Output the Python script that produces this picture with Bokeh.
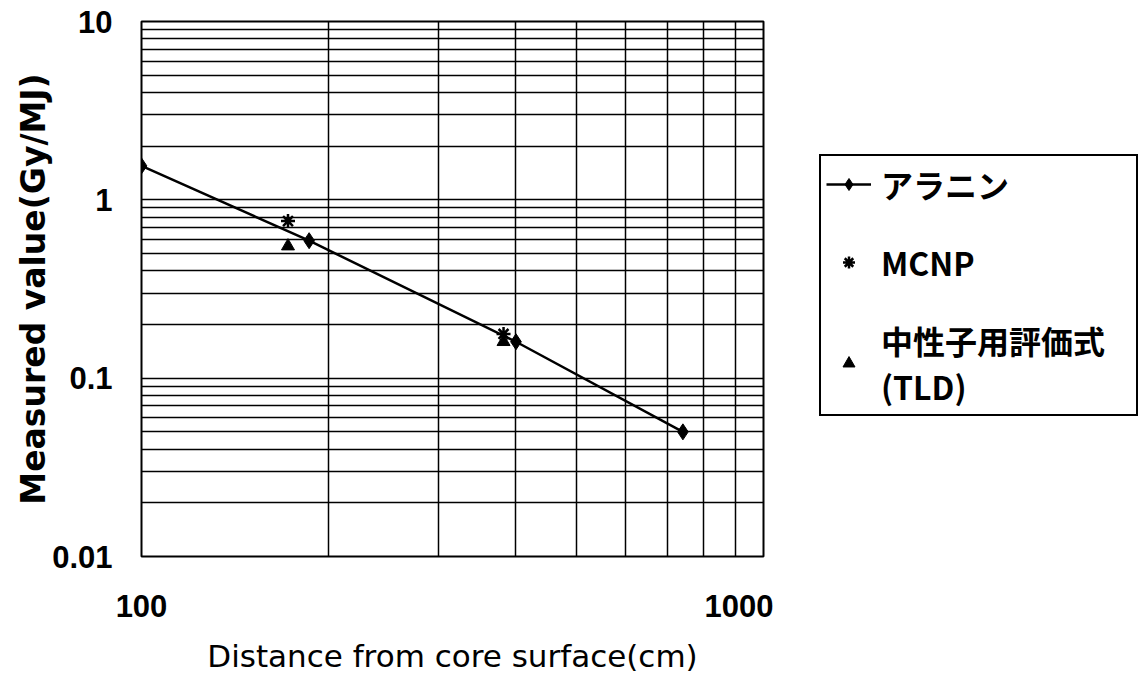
from bokeh.plotting import figure
from bokeh.layouts import row
from bokeh.models import Legend, LegendItem, FixedTicker, CustomJSTickFormatter
from bokeh.embed import file_html
from bokeh.resources import INLINE

# ---- data ----
alanine_x = [100, 186, 400, 742]
alanine_y = [1.55, 0.59, 0.16, 0.05]
mcnp_x = [172, 382]
mcnp_y = [0.76, 0.177]
tld_x = [172, 382]
tld_y = [0.55, 0.16]

x_major = [100, 1000]
x_minor = [200, 300, 400, 500, 600, 700, 800, 900]
y_major = [0.01, 0.1, 1, 10]
y_minor = [m * d for d in [0.01, 0.1, 1] for m in range(2, 10)]

series_labels = ["アラニン", "MCNP", "中性子用評価式\n(TLD)"]
x_title = "Distance from core surface(cm)"
y_title = "Measured value(Gy/MJ)"

# ---- styles ----
LINE = dict(line_color="black", line_width=2.5)
DIA = dict(marker="diamond", size=16, fill_color="black", line_color="black")
AST = dict(marker="asterisk", size=14, line_color="black", line_width=2.5)
TRI = dict(marker="triangle", size=13, fill_color="black", line_color="black")

p = figure(width=773, height=678, x_axis_type="log", y_axis_type="log",
           x_range=(100, 1000), y_range=(0.01, 10),
           output_backend="svg", toolbar_location=None,
           min_border_left=141, min_border_right=10,
           min_border_top=21, min_border_bottom=122)

p.outline_line_color = "black"
p.outline_line_width = 2
p.outline_line_alpha = 1
p.background_fill_color = "white"
p.border_fill_color = "white"

p.xaxis.ticker = FixedTicker(ticks=x_major, minor_ticks=x_minor)
p.yaxis.ticker = FixedTicker(ticks=y_major, minor_ticks=y_minor)
p.xaxis.formatter = CustomJSTickFormatter(code="return String(tick);")
p.yaxis.formatter = CustomJSTickFormatter(code="return String(tick);")

for ax in (p.xaxis[0], p.yaxis[0]):
    ax.axis_line_color = None
    ax.major_tick_line_color = None
    ax.minor_tick_line_color = None
    ax.major_tick_out = 0
    ax.minor_tick_out = 0
    ax.major_label_text_font = "Liberation Sans"
    ax.major_label_text_font_style = "bold"
    ax.major_label_text_font_size = "31px"
    ax.major_label_text_color = "black"
    ax.axis_label_text_color = "black"
    ax.axis_label_text_font = "DejaVu Sans"

p.xaxis.axis_label = x_title
p.xaxis.axis_label_text_font_style = "normal"
p.xaxis.axis_label_text_font_size = "31px"
p.xaxis.major_label_standoff = 38
p.xaxis.axis_label_standoff = 18

p.yaxis.axis_label = y_title
p.yaxis.axis_label_text_font_style = "bold"
p.yaxis.axis_label_text_font_size = "33px"
p.yaxis.major_label_standoff = 29
p.yaxis.axis_label_standoff = -4

for g in (p.xgrid[0], p.ygrid[0]):
    g.grid_line_color = "black"
    g.grid_line_width = 1.5
    g.grid_line_alpha = 1
    g.minor_grid_line_color = "black"
    g.minor_grid_line_width = 1.5

p.line(alanine_x, alanine_y, **LINE)
p.scatter(alanine_x, alanine_y, **DIA)
p.scatter(mcnp_x, mcnp_y, **AST)
p.scatter(tld_x, tld_y, **TRI)

# ---- legend panel (separate figure to the right of the plot) ----
# the same series are attached here only as legend glyph sources; the
# panel's ranges lie outside the data so nothing is drawn in its frame
q = figure(width=366, height=678, output_backend="svg", toolbar_location=None,
           x_range=(0, 1), y_range=(0, 1),
           min_border_left=0, min_border_right=0,
           min_border_top=21, min_border_bottom=122)
q.axis.visible = False
q.grid.visible = False
q.outline_line_color = None
q.background_fill_color = "white"
q.border_fill_color = "white"

l_line = q.line(alanine_x, alanine_y, **LINE)
l_dia = q.scatter(alanine_x, alanine_y, **DIA)
l_ast = q.scatter(mcnp_x, mcnp_y, **AST)
l_tri = q.scatter(tld_x, tld_y, **TRI)

legend = Legend(items=[
    LegendItem(label=series_labels[0], renderers=[l_line, l_dia]),
    LegendItem(label=series_labels[1], renderers=[l_ast]),
    LegendItem(label=series_labels[2], renderers=[l_tri]),
], location=(46, 140))
legend.border_line_color = "black"
legend.border_line_width = 2
legend.border_line_alpha = 1
legend.background_fill_color = "white"
legend.background_fill_alpha = 1
legend.label_text_font = "Noto Sans CJK JP"
legend.label_text_font_style = "bold"
legend.label_text_font_size = "32px"
legend.label_text_color = "black"
legend.label_text_line_height = 1.0
legend.glyph_width = 45
legend.glyph_height = 30
legend.label_standoff = 10
legend.label_width = 250
legend.spacing = 32
legend.padding = 5
legend.margin = 0
q.add_layout(legend)

layout = row(p, q)
open("out.html", "w").write(file_html(layout, INLINE))
